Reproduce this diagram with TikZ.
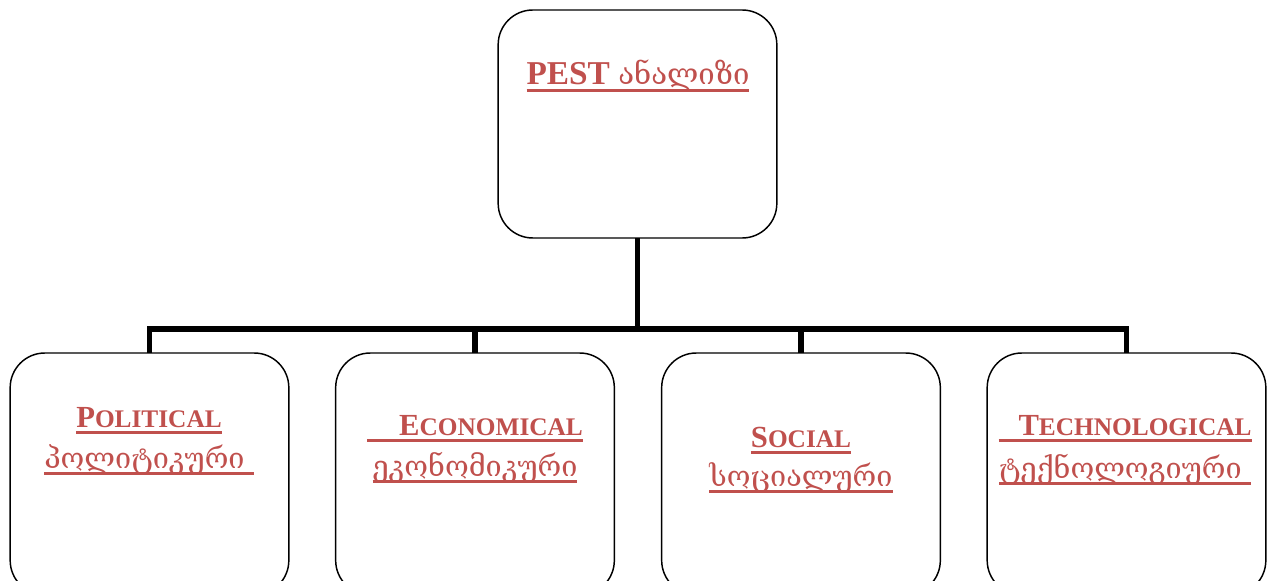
\documentclass[tikz,border=0pt]{standalone}
\usepackage{fontspec}
\setmainfont{Liberation Serif}
\newfontfamily\geofont{DejaVu Serif}
\newcommand\ulbox[1]{\setbox0=\hbox{#1}\rlap{\rule[-5pt]{\wd0}{2.2pt}}\box0}
\newcommand\smcap[2]{#1{\fontsize{19}{22}\selectfont#2}}

\begin{document}
\begin{tikzpicture}[x=0.75pt,y=-0.75pt,
  box/.style={draw,line width=1.1pt,rounded corners=26pt,minimum width=209pt,inner sep=0pt,outer sep=0pt},
  conn/.style={line width=4pt},
  lat/.style={anchor=base,text=pestred,font=\bfseries\fontsize{23}{27}\selectfont},
  geo/.style={anchor=base,text=pestred,font=\geofont\fontsize{21.6}{26}\selectfont}]
  \definecolor{pestred}{RGB}{192,80,77}

  \useasboundingbox (0,0) rectangle (1270,581);
  \clip (0,0) rectangle (1270,581);

  % boxes
  \node[box,minimum height=171pt] (pest) at (637.5,124) {};
  \node[box,minimum height=181.5pt] (pol) at (149.5,474) {};
  \node[box,minimum height=181.5pt] (eco) at (475,474) {};
  \node[box,minimum height=181.5pt] (soc) at (801,474) {};
  \node[box,minimum height=181.5pt] (tec) at (1126.5,474) {};

  % tree
  \coordinate (bar) at (637.5,329);
  \draw[conn] (pest.south) -- (bar);
  \draw[conn] (bar) -| (pol.north);
  \draw[conn] (bar) -| (eco.north);
  \draw[conn] (bar) -| (soc.north);
  \draw[conn] (bar) -| (tec.north);

  % labels
  \node[lat,font=\bfseries\fontsize{25}{30}\selectfont] (pestlab) at (638,85) {\ulbox{PEST {\geofont\mdseries\fontsize{22}{26}\selectfont ანალიზი}}};

  \node[lat] (pol1) at (149,427) {\ulbox{\smcap{P}{OLITICAL}}};
  \node[geo] (pol2) at (149,468) {\ulbox{პოლიტიკური\ }};

  \node[lat] (eco1) at (475,435) {\ulbox{\hspace*{24pt}\smcap{E}{CONOMICAL}}};
  \node[geo] (eco2) at (475,476) {\ulbox{ეკონომიკური}};

  \node[lat] (soc1) at (801,447) {\ulbox{\smcap{S}{OCIAL}}};
  \node[geo] (soc2) at (801,486) {\ulbox{სოციალური}};

  \node[lat] (tec1) at (1125,435) {\ulbox{\hspace*{15pt}\smcap{T}{ECHNOLOGICAL}}};
  \node[geo] (tec2) at (1125,478) {\ulbox{ტექნოლოგიური\ }};
\end{tikzpicture}
\end{document}
